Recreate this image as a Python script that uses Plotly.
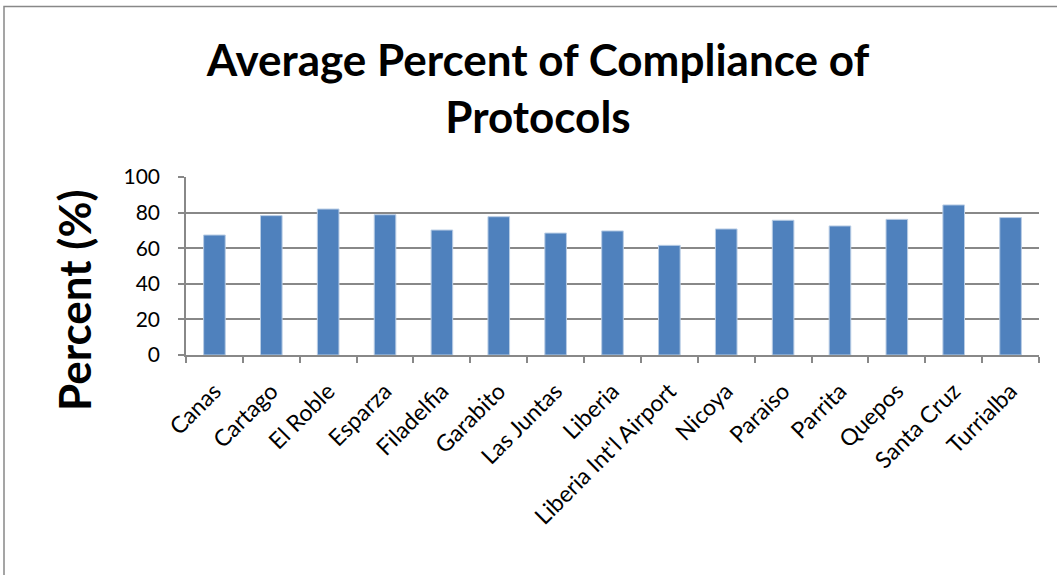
import plotly.graph_objects as go

categories = ["Canas", "Cartago", "El Roble", "Esparza", "Filadelfia", "Garabito",
              "Las Juntas", "Liberia", "Liberia Int'l Airport", "Nicoya", "Paraiso",
              "Parrita", "Quepos", "Santa Cruz", "Turrialba"]
values = [67.4, 78.3, 82.0, 78.8, 70.2, 77.7, 68.5, 69.7, 61.6, 70.8, 75.7, 72.5, 76.2, 84.3, 77.2]
y_ticks = [0, 20, 40, 60, 80, 100]

W, H = 1057, 575
L, R, T, B = 186, 18, 177, 220
pw, ph = W - L - R, H - T - B

fig = go.Figure(go.Bar(
    x=categories, y=values, width=0.38,
    marker=dict(color="#4F81BD", line=dict(color="#B9CDE5", width=1)),
))

font = "Lato, 'Open Sans', sans-serif"
fig.update_layout(
    width=W, height=H,
    margin=dict(l=L, r=R, t=T, b=B),
    paper_bgcolor="white", plot_bgcolor="white",
    showlegend=False,
    font=dict(family=font, color="black"),
    title=dict(text="<b>Average Percent of Compliance of<br>Protocols</b>",
               x=538 / W, xanchor="center", y=1 - 76 / H, yanchor="middle",
               yref="container", font=dict(size=44, family=font, color="black")),
    xaxis=dict(showline=True, linecolor="#888888", linewidth=1.5,
               ticks="outside", ticklen=6, tickcolor="#888888", tickwidth=1.5,
               tickson="boundaries", tickangle=-45,
               tickfont=dict(size=23, family=font, color="black"),
               ticklabelstandoff=12,
               showgrid=False),
    yaxis=dict(range=[0, 100], tickvals=y_ticks, showline=True, linecolor="#888888",
               linewidth=1.5, ticks="outside", ticklen=6, tickcolor="#888888",
               tickwidth=1.5, showgrid=True, gridcolor="#888888", gridwidth=1.5,
               tickfont=dict(size=21, family=font, color="black"),
               ticklabelstandoff=14, zeroline=False),
    annotations=[dict(text="<b>Percent (%)</b>", xref="paper", yref="paper",
                      x=(74 - L) / pw, y=(H - B - 300) / ph, textangle=-90,
                      showarrow=False, xanchor="center", yanchor="middle",
                      font=dict(size=44, family=font, color="black"))],
    shapes=[dict(type="rect", xref="paper", yref="paper",
                 x0=(4 - L) / pw, x1=(1065 - L) / pw,
                 y0=(H - B - 590) / ph, y1=(H - B - 6.5) / ph,
                 line=dict(color="#888888", width=1.5), fillcolor="rgba(0,0,0,0)",
                 layer="below")],
)

fig.write_html("out.html")
